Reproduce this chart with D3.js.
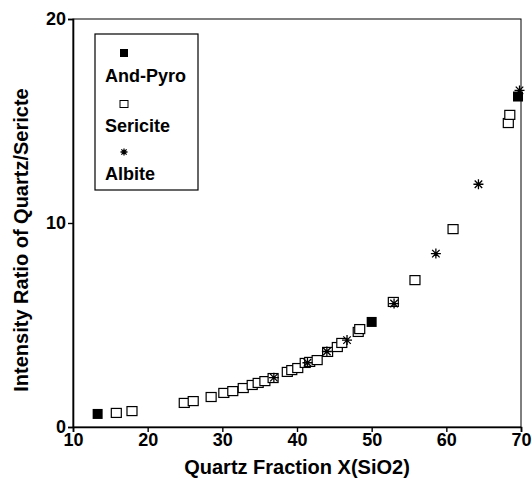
<!DOCTYPE html>
<html>
<head>
<meta charset="utf-8">
<script src="https://cdn.jsdelivr.net/npm/d3@7"></script>
<style>
  body { margin: 0; background: #fff; }
  svg { display: block; }
  text { font-family: "Liberation Sans", Arial, sans-serif; font-weight: bold; fill: #000; }
</style>
</head>
<body>
<div id="chart"></div>
<script>
// Series values: [quartz fraction, intensity ratio].
var andPyro = [
  [13.3, 0.64], [50.0, 5.15], [69.6, 16.2]
];
var sericite = [
  [15.8, 0.69], [17.9, 0.78], [24.9, 1.18], [26.1, 1.27], [28.5, 1.47],
  [30.2, 1.67], [31.4, 1.76], [32.8, 1.91], [34.0, 2.06], [34.8, 2.16],
  [35.7, 2.25], [36.8, 2.40], [38.7, 2.70], [39.3, 2.79], [40.1, 2.89],
  [41.1, 3.14], [41.7, 3.19], [42.7, 3.28], [44.1, 3.68], [45.4, 3.92],
  [46.0, 4.12], [48.2, 4.66], [48.4, 4.80], [52.9, 6.13], [55.8, 7.20],
  [60.9, 9.70], [68.3, 14.9], [68.5, 15.3]
];
var albite = [
  [36.9, 2.42], [41.4, 3.15], [44.0, 3.70], [46.7, 4.26], [53.0, 6.05],
  [58.6, 8.50], [64.3, 11.9], [69.8, 16.5]
];
var xTicks = [10, 20, 30, 40, 50, 60, 70];
var yTicks = [0, 10, 20];
var legendNames = ["And-Pyro", "Sericite", "Albite"];

var width = 532, height = 479;
var margin = {left: 73, right: 11, top: 19, bottom: 52};

var svg = d3.select("#chart").append("svg")
  .attr("width", width)
  .attr("height", height);

var x = d3.scaleLinear().domain([10, 70]).range([margin.left, width - margin.right]);
var y = d3.scaleLinear().domain([0, 20]).range([height - margin.bottom, margin.top]);

// Frame
svg.append("rect")
  .attr("x", x(10)).attr("y", y(20))
  .attr("width", x(70) - x(10)).attr("height", y(0) - y(20))
  .attr("fill", "none").attr("stroke", "#000").attr("stroke-width", 1);

// Axes
var xAxis = svg.append("g")
  .attr("transform", "translate(0," + y(0) + ")")
  .call(d3.axisBottom(x).tickValues(xTicks).tickSize(5).tickPadding(1).tickFormat(d3.format("d")));
var yAxis = svg.append("g")
  .attr("transform", "translate(" + x(10) + ",0)")
  .call(d3.axisLeft(y).tickValues(yTicks).tickSize(5).tickPadding(2).tickFormat(d3.format("d")));

[xAxis, yAxis].forEach(function (a) {
  a.select(".domain").attr("stroke-width", 1.6);
  a.selectAll(".tick line").attr("stroke-width", 1.4);
  a.selectAll(".tick text")
    .style("font-family", "'Liberation Sans', Arial, sans-serif")
    .style("font-weight", "bold")
    .style("font-size", "18px")
    .attr("fill", "#000");
});

// Axis titles
svg.append("text")
  .attr("x", (x(10) + x(70)) / 2)
  .attr("y", 474)
  .attr("text-anchor", "middle")
  .style("font-size", "20px")
  .text("Quartz Fraction X(SiO2)");

svg.append("text")
  .attr("transform", "translate(28," + 240 + ") rotate(-90)")
  .attr("text-anchor", "middle")
  .style("font-size", "20px")
  .text("Intensity Ratio of Quartz/Sericte");

// Markers
function star(g, cx, cy, r) {
  var p = "M" + (cx - r) + "," + cy + "H" + (cx + r) +
    "M" + cx + "," + (cy - r) + "V" + (cy + r) +
    "M" + (cx - r * 0.75) + "," + (cy - r * 0.75) + "L" + (cx + r * 0.75) + "," + (cy + r * 0.75) +
    "M" + (cx - r * 0.75) + "," + (cy + r * 0.75) + "L" + (cx + r * 0.75) + "," + (cy - r * 0.75);
  g.append("path").attr("d", p).attr("stroke", "#000").attr("stroke-width", 1.3).attr("fill", "none");
}

var plot = svg.append("g");

plot.selectAll(".ser").data(sericite).enter().append("rect")
  .attr("class", "ser")
  .attr("x", function (d) { return x(d[0]) - 5; })
  .attr("y", function (d) { return y(d[1]) - 4.5; })
  .attr("width", 10).attr("height", 9)
  .attr("fill", "#fff").attr("stroke", "#000").attr("stroke-width", 1.2);

plot.selectAll(".and").data(andPyro).enter().append("rect")
  .attr("class", "and")
  .attr("x", function (d) { return x(d[0]) - 5; })
  .attr("y", function (d) { return y(d[1]) - 5; })
  .attr("width", 10).attr("height", 10)
  .attr("fill", "#000");

albite.forEach(function (d) { star(plot, x(d[0]), y(d[1]), 5); });

// Legend
var legend = svg.append("g");
legend.append("rect")
  .attr("x", 95).attr("y", 34).attr("width", 103).attr("height", 156)
  .attr("fill", "#fff").attr("stroke", "#000").attr("stroke-width", 1.2);

legend.append("rect").attr("x", 120).attr("y", 49).attr("width", 8).attr("height", 8).attr("fill", "#000");
legend.append("rect").attr("x", 120).attr("y", 100.5).attr("width", 8).attr("height", 7)
  .attr("fill", "#fff").attr("stroke", "#000").attr("stroke-width", 1);
star(legend, 124, 152, 3.5);

legendNames.forEach(function (n, i) {
  legend.append("text")
    .attr("x", 105)
    .attr("y", [82, 132, 180][i])
    .style("font-size", "18px")
    .text(n);
});
</script>
</body>
</html>
